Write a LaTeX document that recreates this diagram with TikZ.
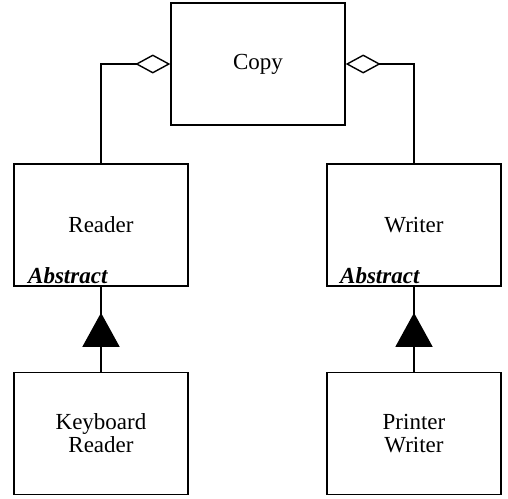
\documentclass[tikz,border=0pt]{standalone}
\usepackage{fontspec}
\setmainfont{Liberation Serif}
\usetikzlibrary{arrows.meta,decorations.markings}
\begin{document}
\begin{tikzpicture}[x=1pt,y=-1pt,
  cls/.style={draw,line width=1.4pt,rectangle,minimum width=174pt,minimum height=122pt,inner sep=0pt,align=center,font=\fontsize{23}{23}\selectfont},
  conn/.style={line width=1.4pt},
  agg/.style={conn,-{Diamond[open,length=35pt,width=19pt,line width=1.4pt]}},
  inh/.style={conn,postaction={decorate},decoration={markings,mark=at position 59pt with {\arrow{Triangle[length=34pt,width=37pt]}}}},
  abs/.style={anchor=base west,inner sep=0pt,font=\fontsize{23}{23}\selectfont\bfseries\itshape}]
\useasboundingbox (0,0) rectangle (508,498);
\node[cls] (copy) at (258,64) {Copy};
\node[cls] (reader) at (101,225) {Reader};
\node[cls] (writer) at (414,225) {Writer};
\node[cls] (kb) at (101,433.5) {Keyboard\\Reader};
\node[cls] (pw) at (414,433.5) {Printer\\Writer};
\node[abs] (absr) at (28,283) {Abstract};
\node[abs] (absw) at (340,283) {Abstract};
\draw[agg] (reader.north) |- (copy.west);
\draw[agg] (writer.north) |- (copy.east);
\draw[inh] (kb.north) -- (reader.south);
\draw[inh] (pw.north) -- (writer.south);
\end{tikzpicture}
\end{document}
